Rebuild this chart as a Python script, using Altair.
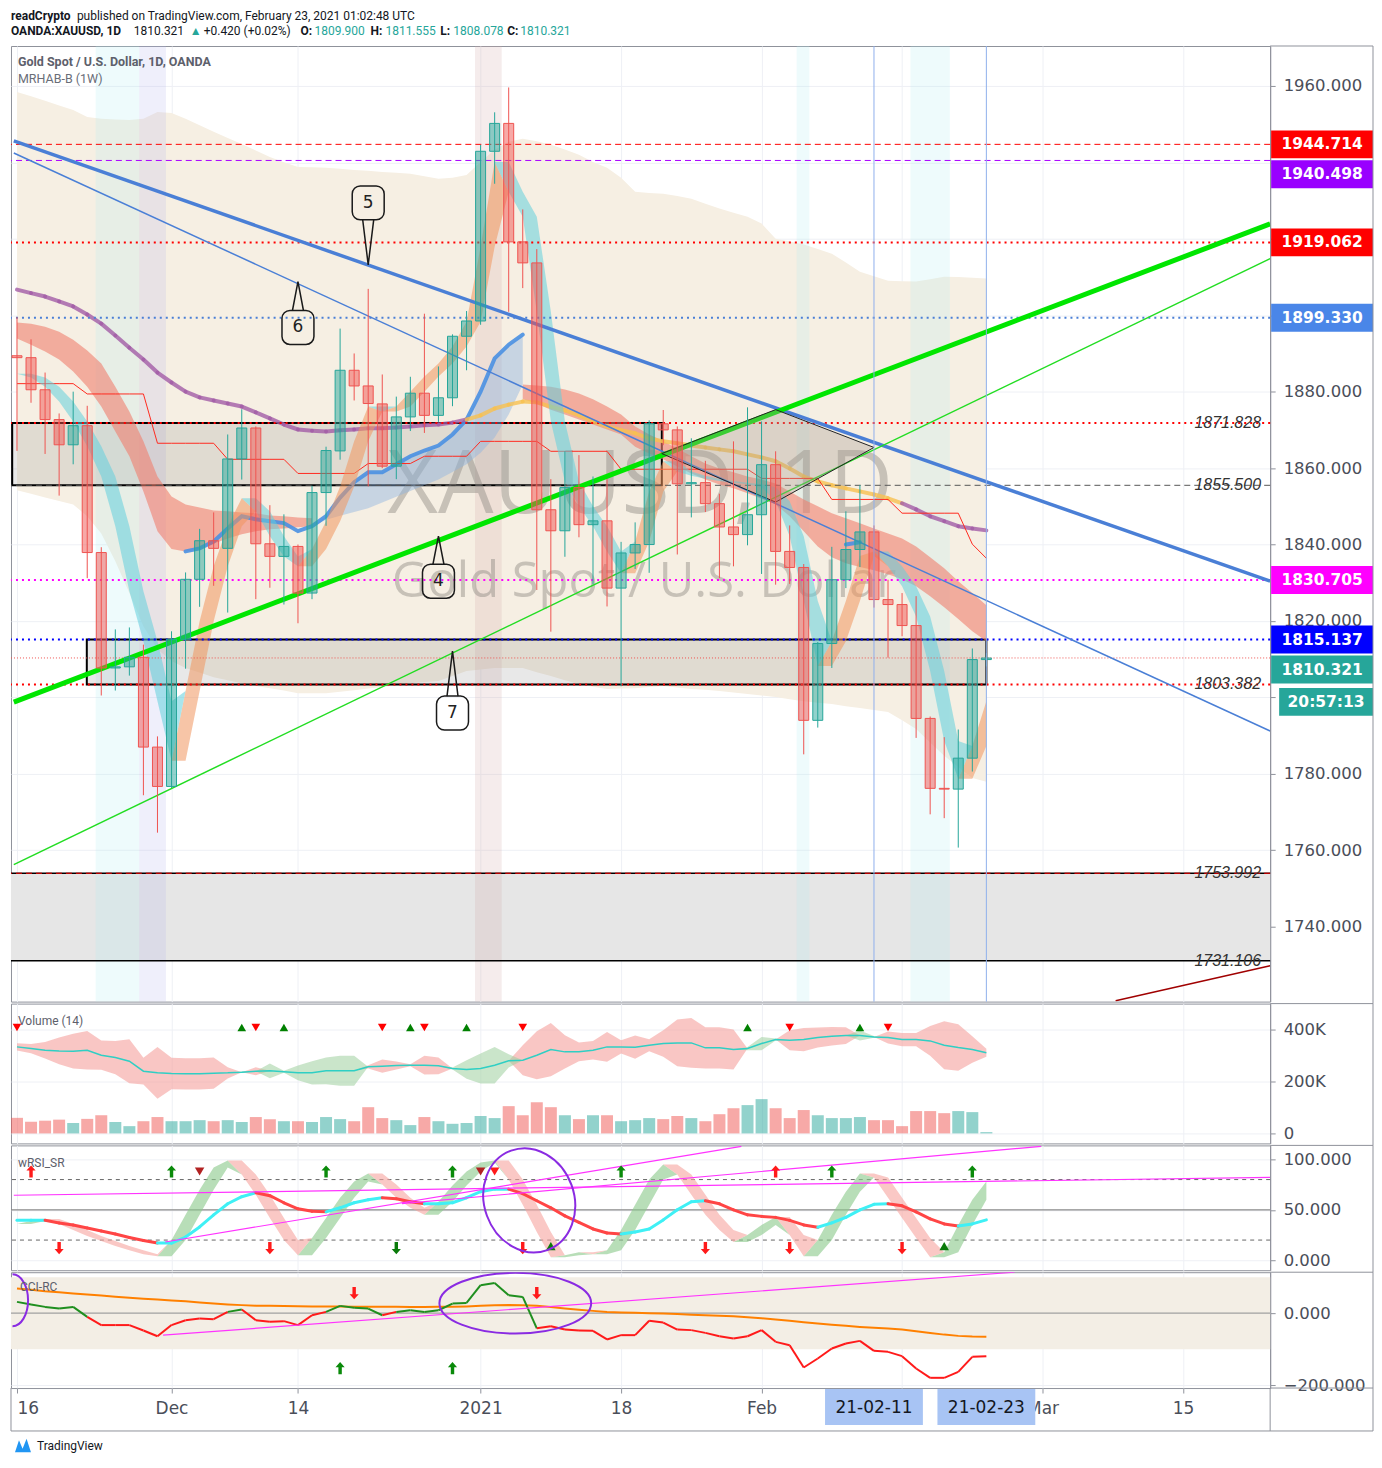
import altair as alt
import pandas as pd
import numpy as np

N = 70  # bar 0 = 2020-11-16 ... bar 69 = 2021-02-23 (daily bars)

# ---------------------------------------------------------------- candles
opens = [1889.4,1888.9,1880.5,1872.7,1866.1,1871.1,1837.9,1807.7,1808.0,1810.5,
         1787.0,1776.7,1815.2,1830.9,1841.0,1839.0,1862.4,1870.5,1840.2,1836.9,
         1839.5,1827.3,1853.6,1864.5,1885.6,1881.5,1876.8,1860.5,1873.4,1879.6,
         1873.8,1878.4,1894.5,1898.5,1942.9,1950.2,1919.2,1913.7,1849.1,1843.6,
         1854.9,1845.2,1846.2,1828.6,1837.8,1840.0,1871.6,1870.0,1855.9,1856.2,
         1850.7,1844.6,1842.6,1847.8,1860.9,1838.2,1834.0,1794.0,1814.1,1830.8,
         1838.7,1843.3,1825.6,1824.3,1818.8,1794.5,1776.2,1776.0,1784.1,1809.9]
highs = [1899.5,1893.7,1885.0,1874.3,1880.0,1876.3,1839.3,1817.8,1818.3,1813.8,
         1789.8,1817.3,1832.7,1844.1,1848.4,1868.8,1875.4,1870.9,1850.3,1847.9,
         1840.0,1855.4,1865.6,1896.5,1890.0,1906.9,1884.5,1878.7,1883.9,1900.4,
         1886.6,1895.0,1901.1,1944.6,1953.1,1959.6,1927.7,1917.3,1857.1,1864.4,
         1863.4,1857.8,1857.1,1840.7,1845.8,1872.5,1875.2,1870.9,1867.8,1861.9,
         1853.3,1867.0,1875.9,1872.2,1864.4,1845.0,1834.9,1814.5,1839.4,1848.7,
         1855.6,1845.0,1830.8,1827.3,1826.5,1795.0,1789.6,1791.6,1812.8,1811.6]
lows = [1864.5,1877.1,1863.7,1852.8,1861.0,1831.2,1800.5,1801.8,1805.7,1774.4,
        1764.6,1776.3,1807.5,1823.7,1829.2,1822.2,1857.0,1825.7,1828.7,1824.3,
        1819.4,1825.7,1844.9,1862.2,1877.7,1855.2,1860.0,1857.1,1869.7,1869.2,
        1872.1,1876.2,1885.6,1897.5,1934.4,1900.9,1907.1,1828.1,1817.2,1836.8,
        1841.9,1829.6,1823.8,1802.9,1833.6,1832.6,1866.0,1837.4,1847.1,1848.5,
        1831.2,1834.3,1839.8,1832.3,1829.5,1829.7,1785.1,1792.1,1807.7,1828.6,
        1834.1,1823.5,1810.4,1816.0,1789.4,1769.4,1768.4,1760.7,1780.6,1808.1]
closes = [1888.9,1880.5,1872.7,1866.1,1871.1,1837.9,1807.7,1808.0,1810.5,1787.0,
          1776.7,1815.2,1830.9,1841.0,1839.0,1862.4,1870.5,1840.2,1836.9,1839.5,
          1827.3,1853.6,1864.6,1885.6,1881.5,1876.9,1860.5,1873.4,1879.6,1873.8,
          1878.4,1894.5,1898.5,1942.9,1950.2,1919.2,1913.7,1849.1,1843.6,1854.9,
          1845.2,1846.2,1828.6,1837.8,1840.0,1871.6,1870.0,1855.9,1856.2,1850.7,
          1844.6,1842.6,1847.8,1860.9,1838.2,1834.0,1794.0,1814.1,1830.8,1838.7,
          1843.3,1825.6,1824.3,1818.8,1794.5,1776.2,1776.0,1784.1,1809.9,1810.3]

# ---------------------------------------------------------------- overlays (price)
cloud_upper = [1958.4,1957.3,1956.1,1954.9,1953.7,1951.9,1951.4,1951.2,1951.1,1951.4,
               1953.2,1952.9,1951.4,1949.7,1948.0,1946.4,1944.8,1943.1,1941.4,1940.0,
               1938.8,1938.7,1938.6,1938.3,1938.0,1937.8,1937.5,1937.3,1937.0,1936.4,
               1935.7,1936.0,1936.7,1940.1,1943.3,1945.4,1946.2,1945.5,1944.6,1943.4,
               1942.0,1940.1,1938.6,1936.0,1932.3,1932.0,1931.8,1931.2,1930.5,1929.2,
               1927.9,1926.8,1925.8,1924.0,1920.0,1919.3,1918.5,1917.3,1916.1,1913.8,
               1911.4,1910.2,1909.0,1908.9,1908.8,1909.4,1910.1,1910.0,1909.8,1909.6]
cloud_lower = [1854.2,1853.3,1852.3,1851.4,1850.5,1847.4,1842.9,1835.6,1827.3,1818.6,
               1812.6,1809.5,1807.7,1806.5,1805.3,1804.5,1803.7,1803.0,1802.4,1801.8,
               1801.1,1801.1,1801.1,1801.5,1801.9,1802.3,1802.7,1803.2,1803.7,1804.0,
               1804.3,1805.6,1806.9,1807.3,1807.7,1807.7,1807.7,1806.6,1805.6,1804.5,
               1803.5,1802.8,1802.2,1802.3,1802.4,1802.7,1803.0,1802.6,1802.2,1802.0,
               1801.7,1801.3,1800.9,1800.5,1800.1,1799.5,1799.0,1798.6,1798.3,1797.7,
               1797.2,1796.7,1796.2,1794.0,1791.7,1788.2,1784.7,1781.8,1778.9,1777.9]
slow_upper = ([1898.1,1897.8,1897.0,1895.7,1893.6,1890.8,1887.4,1881.3,1874.8,1867.0,
               1857.8,1852.6,1850.5,1849.7,1848.9,1848.7,1848.4,1848.2,1847.6,1847.4,
               1847.1,1846.9] + [None] * 14 +
              [1881.9,1881.6,1881.3,1880.6,1879.5,1878.0,1876.1,1874.0,1870.9,1868.8,
               1867.0,1865.1,1863.1,1861.2,1859.9,1858.9,1857.8,1857.0,1856.0,1853.9,
               1851.8,1850.0,1848.2,1846.9,1845.6,1844.2,1842.9,1841.6,1839.5,1836.7,
               1833.8,1830.4,1827.3,1824.1])
slow_lower = ([1893.9,1892.3,1890.5,1888.4,1885.3,1881.3,1876.1,1869.6,1863.1,1853.9,
               1843.5,1838.8,1838.2,1838.8,1840.3,1841.6,1842.7,1843.5,1844.0,1844.2,
               1844.5,1844.8] + [None] * 14 +
              [1878.0,1876.9,1875.3,1874.0,1872.7,1871.4,1870.1,1868.8,1865.6,1863.8,
               1862.3,1860.4,1858.6,1857.0,1855.7,1854.7,1853.4,1852.0,1850.5,1847.4,
               1843.5,1839.5,1836.7,1835.1,1834.1,1833.3,1832.2,1830.9,1829.1,1826.5,
               1823.6,1820.5,1817.3,1814.7])
blue_ma = ([None] * 12 +
           [1838.2,1839.0,1840.8,1844.2,1847.4,1846.6,1846.1,1845.6,1843.5,1844.8,
            1847.4,1852.3,1856.3,1858.9,1858.9,1861.0,1863.1,1864.6,1865.9,1868.8,
            1872.7,1880.0,1888.7,1892.3,1894.9] + [None] * 22 + [1840.0,1840.6] + [None] * 9)
blue_lower = ([None] * 21 +
              [1844.8,1846.5,1847.5,1848.5,1849.5,1851.0,1852.5,1854.0,1855.5,1857.0,
               1859.0,1861.0,1864.0,1868.0,1874.0,1881.9] + [None] * 33)
ma_line = [1906.7,1905.8,1904.9,1903.6,1902.3,1900.2,1897.8,1894.7,1891.5,1888.4,
           1885.0,1882.4,1880.0,1878.5,1877.7,1876.9,1876.1,1874.6,1873.0,1871.4,
           1870.1,1869.8,1869.6,1869.9,1870.1,1870.4,1870.4,1870.6,1870.9,1871.2,
           1871.4,1871.9,1872.7,1873.8,1875.6,1876.6,1877.4,1877.2,1876.1,1875.1,
           1873.8,1872.2,1870.9,1869.9,1869.1,1867.8,1867.0,1866.5,1865.9,1865.4,
           1864.9,1864.4,1863.6,1862.8,1861.8,1859.9,1857.8,1856.5,1855.5,1854.7,
           1853.9,1853.1,1852.1,1850.8,1849.2,1847.4,1846.1,1844.8,1844.2,1843.7]
ma_orange_bars = (32, 63)   # bars where the weekly MA is drawn orange
step_line = [1882.1,1882.1,1882.1,1882.1,1882.1,1879.4,1879.4,1879.4,1879.4,1879.4,
             1866.5,1866.5,1866.5,1866.5,1866.5,1862.3,1862.3,1862.3,1862.3,1862.3,
             1858.6,1858.6,1858.6,1858.6,1858.6,1861.2,1861.2,1861.2,1861.2,1863.1,
             1863.1,1863.1,1863.1,1867.0,1867.0,1867.0,1867.0,1867.0,1864.4,1864.4,
             1864.4,1864.4,1864.4,1859.7,1859.7,1859.7,1859.7,1859.7,1859.7,1859.7,
             1859.7,1859.7,1859.7,1857.3,1857.3,1857.3,1857.3,1857.3,1851.8,1851.8,
             1851.8,1851.8,1851.8,1848.2,1848.2,1848.2,1848.2,1848.2,1840.1,1836.4]
fast_ma = [1884.7,1883.7,1881.3,1877.4,1872.2,1865.7,1857.8,1844.8,1827.8,1814.7,
           1799.0,1783.4,1801.7,1819.9,1834.3,1844.8,1852.1,1848.7,1842.2,1836.9,
           1834.3,1838.8,1846.1,1855.2,1867.0,1876.1,1874.8,1876.1,1880.0,1884.0,
           1887.4,1891.8,1898.3,1917.9,1940.1,1932.3,1925.8,1900.9,1872.2,1856.5,
           1850.0,1844.8,1838.2,1832.5,1840.8,1853.9,1861.8,1859.1,1858.0,1857.2,
           1856.6,1856.2,1855.8,1855.0,1851.3,1842.2,1825.2,1808.2,1814.7,1825.2,
           1837.0,1838.2,1834.3,1829.1,1821.2,1806.9,1788.6,1778.7,1787.3,1799.0]

levels = [1944.714, 1940.498, 1919.062, 1899.330, 1871.828, 1855.500,
          1830.705, 1815.137, 1810.321, 1803.382, 1753.992, 1731.106]
box_prices = [1944.714, 1940.498, 1919.062, 1899.330, 1830.705, 1815.137, 1810.321]
timer_text = "20:57:13"

shade_start = [5.6, 8.7, 32.6, 55.5, 63.6]
shade_end = [8.7, 10.6, 34.5, 56.4, 66.4]
shade_kind = ["cyan", "lavender", "pink", "cyan", "cyan"]

trend_i0 = [-0.426, -0.426, -0.426, -0.426, 78.2]
trend_p0 = [1945.9, 1942.8, 1798.5, 1755.9, 1720.6]
trend_i1 = [89.2, 89.2, 89.2, 89.2, 89.2]
trend_p1 = [1830.4, 1791.2, 1923.9, 1914.8, 1729.8]

para_i = [45.9, 54.0, 61.0, 54.0]
para_p = [1863.8, 1875.3, 1865.4, 1851.1]

callout_lbl = ["4", "5", "6", "7"]
callout_tip_i = [30.0, 25.0, 20.0, 31.0]
callout_tip_p = [1842.2, 1913.2, 1908.8, 1812.1]
callout_box_p = [1830.4, 1929.4, 1896.8, 1795.9]

# ---------------------------------------------------------------- volume (thousands)
volumes_k = [60,45,49,53,40,56,70,44,28,47, 63,47,47,51,47,51,44,63,55,47,
             47,44,63,55,47,101,59,51,32,63, 47,37,40,67,59,105,70,120,101,70,
             55,70,70,47,51,59,55,67,59,47, 74,97,109,132,97,59,90,70,59,59,
             63,51,51,28,86,86,78,86,82,5]
vol_ma_k = [333.3,326.9,320.5,317.9,316.7,320.5,301.3,292.3,278.2,239.7,
            233.3,230.8,229.5,229.5,232.1,233.3,235.9,239.7,241.0,237.2,
            233.3,233.3,241.0,241.0,241.0,256.4,259.0,261.5,262.8,262.8,
            260.3,250.0,246.2,250.0,262.8,279.5,282.1,301.3,323.1,314.1,
            314.1,320.5,333.3,333.3,332.1,339.7,346.1,348.7,348.7,329.5,
            329.5,323.1,326.9,346.1,361.5,359.0,361.5,369.2,374.4,376.9,
            376.9,371.8,369.2,361.5,361.5,356.4,339.7,330.7,323.1,310.3]
vol_dev_k = [14.1,17.9,32.0,51.3,66.7,74.4,56.4,64.1,84.6,51.3,
             100.0,60.3,60.3,60.3,60.3,21.8,2.6,15.4,28.2,3.8,
             28.2,44.9,51.3,57.7,57.7,6.4,25.6,15.4,3.8,35.9,
             32.1,3.8,35.9,57.7,70.5,25.6,57.7,92.3,102.6,64.1,
             35.9,35.9,57.7,25.6,44.9,23.1,51.3,89.7,96.2,79.5,
             79.5,76.9,6.4,25.6,3.8,38.5,44.9,38.5,35.9,32.1,
             19.2,3.8,23.1,25.6,25.6,57.7,92.3,89.7,51.3,15.4]
vol_side = list("rrrrrrrrrrrrrrrr" "gr" "ggggggg" "rrrrrr" "ggggg"
                "rrrrrrrrrrrrrrrr" "ggg" "rrrrr" "gg" "rrrrrrrr")
vol_dn_idx = [0, 17, 26, 29, 36, 55, 62]
vol_up_idx = [16, 19, 28, 32, 52, 60]

# ---------------------------------------------------------------- wRSI
wrsi = [39.6,39.6,39.6,37,35,32,29,26,22.5,19.5, 17,17,23,33,45,56,63,67,64,57,
        51,48.5,48,52,57,60,62,61,58,56, 56,57,62,68,70.5,70.5,66,59,52,44,
        37.5,31,27,26,28,31,40,50,58,59, 56,50,45,43.5,42.5,39.5,35,32.7,37,42.5,
        50,55.5,56,54,48,41,36,34,36,40]
wrsi_fast = [36,39,41,36,30,24,19,14,10,6, 4,20,45,70,92,99,85,65,42,20,
             5,22,42,62,78,86,75,62,52,45, 58,74,88,97,99,80,55,28,3,5,
             8,6,10,30,55,80,95,85,65,45, 30,18,25,35,43,25,4,20,45,68,
             86,82,62,42,22,3,8,35,60,78]
rsi_levels = [80, 50, 20]
rsi_line_i0 = [-0.426, 10.55, 27.4]
rsi_line_v0 = [64.4, 18.1, 56.1]
rsi_line_i1 = [89.2, 51.56, 72.9]
rsi_line_v1 = [82.2, 112.9, 112.9]
rsi_mark_i = [1, 11, 13, 22, 31, 33, 34, 43, 54, 58, 68, 3, 18, 27, 36, 38, 49, 55, 63, 66]
rsi_mark_v = [88, 88, 88, 88, 88, 88, 88, 88, 88, 88, 88, 12, 12, 12, 12, 14, 12, 12, 12, 14]
rsi_mark_kind = ["ru", "gu", "dt", "gu", "gu", "dt", "rt", "gu", "ru", "gu", "gu",
                 "rd", "rd", "gd", "rd", "gt", "rd", "rd", "rd", "gt"]

# ---------------------------------------------------------------- CCI
cci = [31.5,24,17.6,13,17.6,-10,-33,-33,-33,-48, -64,-33,-19.4,-14.8,-16.7,3.7,10.2,-19.4,-24,-22,
       -33,-5.6,3.7,20.4,15,13,-5.6,3.7,8.3,3.7, 8.3,26.8,28.7,77.8,84.3,50,45.4,-42,-36,-45,
       -48,-49,-73,-61,-61,-21,-26,-45.4,-47,-54.6, -63.9,-70.4,-64,-47,-79.6,-88.9,-150.9,-125.9,-98,-84.3,
       -76.9,-104.6,-107.4,-119.4,-153.7,-179.6,-179.6,-163,-121.3,-119.4]
cci_ma = [68.6,65,61,58,55,52,49,46,43,40.5, 38,35.5,33,30,27,24.5,22.5,21,20.5,20,
          19.5,19,18.7,18.5,18.2,18,17.8,17.7,17.6,17.6, 17.7,18,19,20.5,22,22.5,22,20.5,17,13,
          9.5,6.5,3.5,2,1,0,-1,-2.5,-4,-5.5, -7,-8.5,-11,-14,-17.5,-21,-25,-28.5,-32,-35,
          -38,-40.5,-42.6,-45.5,-50,-55,-59.5,-63,-65,-65.7]
cci_line_i = [10.4, 71.0]
cci_line_v = [-61, 113.9]
cci_dn_idx = [24, 37]
cci_up_idx = [23, 31]

# ---------------------------------------------------------------- time axis
tick_idx = [0, 11, 20, 33, 43, 53, 63, 73, 83]
tick_lbl = ["16", "Dec", "14", "2021", "18", "Feb", "15", "Mar", "15"]
marked_idx = [61, 69]
marked_lbl = ["21-02-11", "21-02-23"]

for arr in [opens, highs, lows, closes, cloud_upper, cloud_lower, slow_upper, slow_lower,
            blue_ma, blue_lower, ma_line, step_line, fast_ma, volumes_k, vol_ma_k,
            vol_dev_k, vol_side, wrsi, wrsi_fast, cci, cci_ma]:
    assert len(arr) == N, len(arr)

# ================================================================= styling
W = 1261
RB = W + 103                       # right frame (x, px)
H_HEAD, H_MAIN, H_VOL, H_RSI, H_CCI = 34, 957, 140, 125, 116
XMIN, XMAX = -0.426, 89.2
YMIN, YMAX = 1720.4, 1970.45
PX = H_MAIN / (YMAX - YMIN)        # px per price unit
IX = W / (XMAX - XMIN)             # px per bar
FRAME = "#8f929b"
GRID = "#eef0f5"
LBL = "#4a4e59"
FONT = "DejaVu Sans"
FONT2 = "Liberation Sans"
FONT3 = "Roboto"
GREEN = "#26a69a"
RED = "#ef5350"

XS = alt.Scale(domain=[XMIN, XMAX], nice=False, zero=False)
YS_MAIN = alt.Scale(domain=[YMIN, YMAX], nice=False, zero=False)
YS_VOL = alt.Scale(domain=[-38462, 500000], nice=False, zero=False)
YS_RSI = alt.Scale(domain=[-9.9, 113.9], nice=False, zero=False)
YS_CCI = alt.Scale(domain=[-208, 114], nice=False, zero=False)

# right-hand price boxes (pushed apart like the platform does)
box_color = {1944.714: "#ff0000", 1940.498: "#9900ff", 1919.062: "#ff0000",
             1899.330: "#4a86e8", 1830.705: "#ff00ff", 1815.137: "#0000ff",
             1810.321: "#26a69a"}
GAP = 30 / PX
HB = 14 / PX
rows, last = [], None
for p in sorted(box_prices, reverse=True):
    pos = p if last is None else min(p, last - GAP)
    rows.append(dict(pos=pos, t=f"{p:.3f}", col=box_color[p], a=pos + HB, b=pos - HB))
    last = pos
dpb = pd.DataFrame(rows)
tpos = last - GAP * 1.08
box_pos = list(dpb.pos) + [tpos]

# axis labels hidden behind the coloured boxes
y_vals = list(range(1740, 1961, 20))
y_hidden = [v for v in y_vals if any(abs(v - q) < 18 / PX for q in box_pos)]
y_expr = ("indexof([" + ",".join(str(v) for v in y_hidden) + "], datum.value) >= 0 ? '' : "
          "format(datum.value, '.3f')")
half_box = 49 / IX
x_hidden = [t for t in tick_idx if any(abs(t - m) < half_box for m in marked_idx)]
lbl_expr = "".join(f"datum.value == {v} ? '{'' if v in x_hidden else t}' : "
                   for v, t in zip(tick_idx, tick_lbl)) + "''"

AXX = alt.Axis(values=tick_idx, grid=True, gridColor=GRID, labels=False, ticks=False,
               domain=False, title=None)
AXX_BOTTOM = alt.Axis(values=tick_idx, grid=True, gridColor=GRID, labelExpr=lbl_expr,
                      labelFontSize=17, labelColor=LBL, labelFont=FONT, tickSize=5,
                      tickColor=FRAME, domain=False, labelPadding=8, title=None,
                      labelOverlap=False, labelFlush=8)


def yax(values, fmt=None, expr=None):
    kw = dict(orient="right", values=values, labelFontSize=16.5, labelColor=LBL,
              labelFont=FONT, tickSize=5, tickColor=FRAME, domainColor=FRAME,
              labelPadding=8, grid=True, gridColor=GRID, title=None, labelOverlap=False)
    if fmt:
        kw["format"] = fmt
    if expr:
        kw["labelExpr"] = expr
    return alt.Axis(**kw)


AXY_MAIN = yax(y_vals, expr=y_expr)
AXY_VOL = yax([0, 200000, 400000], expr="datum.value == 0 ? '0' : (datum.value / 1000) + 'K'")
AXY_RSI = yax([0, 50, 100], fmt=".3f")
AXY_CCI = yax([-200, 0], fmt=".3f")


def X(f, bottom=False):
    return alt.X(f, type="quantitative", scale=XS, axis=AXX_BOTTOM if bottom else AXX)


def YM(f):
    return alt.Y(f, type="quantitative", scale=YS_MAIN, axis=AXY_MAIN)


def YV(f):
    return alt.Y(f, type="quantitative", scale=YS_VOL, axis=AXY_VOL)


def YR(f):
    return alt.Y(f, type="quantitative", scale=YS_RSI, axis=AXY_RSI)


def YC(f):
    return alt.Y(f, type="quantitative", scale=YS_CCI, axis=AXY_CCI)


DUMMY = pd.DataFrame({"d": [0]})
EDGE = 2.8 / IX          # keep wide strokes inside the left frame


def txt(s, x, y, size=12, color="#555", weight="normal", align="left", font=FONT2,
        style="normal", baseline="middle", opacity=1.0):
    return alt.Chart(pd.DataFrame({"t": [s]})).mark_text(
        align=align, baseline=baseline, fontSize=size, color=color, fontWeight=weight,
        font=font, fontStyle=style, opacity=opacity).encode(
        x=alt.value(x), y=alt.value(y), text="t:N")


def hrule(x, x2, y, color=FRAME, width=1):
    return alt.Chart(DUMMY).mark_rule(color=color, strokeWidth=width).encode(
        x=alt.value(x), x2=alt.value(x2), y=alt.value(y))


def vrule(x, y, y2, color=FRAME, width=1):
    return alt.Chart(DUMMY).mark_rule(color=color, strokeWidth=width).encode(
        x=alt.value(x), y=alt.value(y), y2=alt.value(y2))


def frame_layers(h):
    return [hrule(W, RB, 0), vrule(RB, 0, h + 2)]


def runs_frame(cols):
    key = list(cols)[0]
    out, grp, prev = [], 0, False
    for k in range(N):
        ok = cols[key][k] is not None
        if ok:
            if not prev:
                grp += 1
            r = {"i": k, "grp": grp}
            for n, v in cols.items():
                r[n] = v[k]
            out.append(r)
        prev = ok
    return pd.DataFrame(out)


def seg_frame(vals, colors):
    out = []
    for k in range(len(vals) - 1):
        out.append({"i": k, "v": vals[k], "seg": k, "col": colors[k]})
        out.append({"i": k + 1, "v": vals[k + 1], "seg": k, "col": colors[k]})
    return pd.DataFrame(out)


def ribbons(vals):
    lag = [vals[0]] + list(vals[:-1])
    uh, ul, dh, dl = [], [], [], []
    for a, b in zip(vals, lag):
        if a >= b:
            uh.append(a); ul.append(b); dh.append(a); dl.append(a)
        else:
            uh.append(a); ul.append(a); dh.append(a); dl.append(b)
    return pd.DataFrame({"i": range(len(vals)), "uh": uh, "ul": ul, "dh": dh, "dl": dl})


def line_start(i0, p0, i1, p1):
    """move a line's left end to just inside the frame, staying on the same line"""
    if i0 >= XMIN + EDGE:
        return i0, p0
    ni = XMIN + EDGE
    return ni, p0 + (p1 - p0) * (ni - i0) / (i1 - i0)


UP_ARROW = "M0,-1L0.75,-0.15L0.28,-0.15L0.28,1L-0.28,1L-0.28,-0.15L-0.75,-0.15Z"
DN_ARROW = "M0,1L0.75,0.15L0.28,0.15L0.28,-1L-0.28,-1L-0.28,0.15L-0.75,0.15Z"

# ================================================================= header
head_segments = [
    ("readCrypto", 0, 6, "bold", "#131722"),
    ("published on TradingView.com, February 23, 2021 01:02:48 UTC", 66, 6, "normal", "#131722"),
    ("OANDA:XAUUSD, 1D", 0, 21, "bold", "#131722"),
    ("1810.321", 123, 21, "normal", "#131722"),
    ("\u25b2", 179, 21, "normal", GREEN),
    ("+0.420 (+0.02%)", 193, 21, "normal", "#131722"),
    ("O:", 290, 21, "bold", "#131722"), ("1809.900", 304, 21, "normal", GREEN),
    ("H:", 360, 21, "bold", "#131722"), ("1811.555", 375, 21, "normal", GREEN),
    ("L:", 430, 21, "bold", "#131722"), ("1808.078", 443, 21, "normal", GREEN),
    ("C:", 497, 21, "bold", "#131722"), ("1810.321", 510, 21, "normal", GREEN),
]
head = alt.layer(*[txt(s, x, y, size=12, color=c, weight=w, font=FONT3)
                   for s, x, y, w, c in head_segments]
                 ).properties(width=W, height=H_HEAD,
                              view=alt.ViewBackground(stroke="transparent"))

# ================================================================= main panel
dfm = pd.DataFrame({"i": range(N), "cup": cloud_upper, "clo": cloud_lower,
                    "step": step_line})
dfc = pd.DataFrame({"i": range(N), "o": opens, "h": highs, "l": lows, "c": closes})
dfc["dir"] = np.where(dfc.c >= dfc.o, "up", "down")
dfc["x0"] = dfc.i - 5.0 / IX
dfc["x1"] = dfc.i + 5.0 / IX
CSC = alt.Scale(domain=["up", "down"], range=[GREEN, RED])

L = []
L.append(alt.Chart(dfm).mark_area(color="#f6efe3").encode(x=X("i"), y=YM("cup"), y2="clo"))
L.append(alt.Chart(pd.DataFrame({"a": [levels[10]], "b": [levels[11]]})).mark_rect(
    color="#e6e6e6").encode(x=alt.value(0), x2=alt.value(W), y=YM("a"), y2="b"))
shade_col = {"cyan": "#b2ebf2", "lavender": "#b4b4eb", "pink": "#d2aaaa"}
dfs = pd.DataFrame({"s": shade_start, "e": shade_end,
                    "col": [shade_col[k] for k in shade_kind]})
L.append(alt.Chart(dfs).mark_rect(opacity=0.22).encode(
    x=X("s"), x2="e", y=alt.value(0), y2=alt.value(H_MAIN),
    color=alt.Color("col:N", scale=None)))
dfb = pd.DataFrame({"x0": [XMIN + 1.2 / IX, 4.97], "x1": [45.9, 69.0],
                    "p0": [levels[4], levels[7]], "p1": [levels[5], levels[9]]})
L.append(alt.Chart(dfb).mark_rect(fill="#8c8c8c", fillOpacity=0.2, stroke="black",
                                  strokeWidth=2).encode(
    x=X("x0"), x2="x1", y=YM("p0"), y2="p1"))
# watermark
L.append(txt("XAUUSD, 1D", 630, 468, size=88, color="#8f8a84", font="Open Sans",
             align="center", baseline="alphabetic", opacity=0.45))
L.append(txt("Gold Spot / U.S. Dollar", 634, 552, size=49, color="#8f8a84", font="Open Sans",
             align="center", baseline="alphabetic", opacity=0.45))
# slow ribbon
dslow = runs_frame({"su": slow_upper, "sl": slow_lower})
L.append(alt.Chart(dslow).mark_area(color="#f07f6e", opacity=0.6).encode(
    x=X("i"), y=YM("su"), y2="sl", detail="grp:N"))
# bullish blue MA with fill
dbf = runs_frame({"bl": blue_lower, "bm": blue_ma})
L.append(alt.Chart(dbf).mark_area(color="#8fb4e0", opacity=0.45).encode(
    x=X("i"), y=YM("bm"), y2="bl", detail="grp:N"))
dbl = runs_frame({"bm": blue_ma})
L.append(alt.Chart(dbl).mark_line(color="#4a90e2", strokeWidth=4, opacity=0.9,
                                  strokeCap="round").encode(
    x=X("i"), y=YM("bm"), detail="grp:N"))
# weekly MA (purple / orange)
ma_cols = ["#f7c150" if ma_orange_bars[0] <= k < ma_orange_bars[1] else "#a35ca6"
           for k in range(N - 1)]
L.append(alt.Chart(seg_frame(ma_line, ma_cols)).mark_line(
    strokeWidth=4, opacity=0.8, strokeCap="round").encode(
    x=X("i"), y=YM("v"), detail="seg:N", color=alt.Color("col:N", scale=None)))
# red step line
L.append(alt.Chart(dfm).mark_line(color="#ff2a1f", strokeWidth=1).encode(x=X("i"), y=YM("step")))
# fast ribbon
dfr = ribbons(fast_ma)
L.append(alt.Chart(dfr).mark_area(color="#f0955f", opacity=0.55).encode(
    x=X("i"), y=YM("uh"), y2="ul"))
L.append(alt.Chart(dfr).mark_area(color="#62cfdc", opacity=0.55).encode(
    x=X("i"), y=YM("dh"), y2="dl"))
# horizontal levels
level_style = [
    ("#ff0000", [6, 4], 1), ("#aa00ff", [6, 4], 1), ("#ff0000", [2, 4], 2),
    ("#4a7fd6", [2, 4], 2), ("#ff0000", [2, 4], 2), ("#555555", [6, 4], 1),
    ("#ff00ff", [2, 4], 2), ("#0000ff", [2, 4], 2), ("#ef5350", [1, 2], 1),
    ("#ff0000", [2, 4], 2), ("#000000", [1, 0], 1.5), ("#000000", [1, 0], 1.5),
]
for p, (col, dash, wd) in zip(levels, level_style):
    L.append(alt.Chart(pd.DataFrame({"p": [p]})).mark_rule(
        color=col, strokeDash=dash, strokeWidth=wd).encode(y=YM("p")))
L.append(alt.Chart(pd.DataFrame({"p": [levels[10]]})).mark_rule(
    color="#ff0000", strokeDash=[6, 4], strokeWidth=1).encode(y=YM("p")))
# trend lines
trend_style = [("#4a7fd6", 3.5), ("#4a7fd6", 1.5), ("#00e600", 5), ("#22dd22", 1.5),
               ("#a00000", 1.5)]
for k, (col, wd) in enumerate(trend_style):
    a_i, a_p = line_start(trend_i0[k], trend_p0[k], trend_i1[k], trend_p1[k])
    d = pd.DataFrame({"i": [a_i, trend_i1[k]], "p": [a_p, trend_p1[k]]})
    L.append(alt.Chart(d).mark_line(color=col, strokeWidth=wd, clip=True).encode(
        x=X("i"), y=YM("p")))
# parallelogram
dpa = pd.DataFrame({"i": [para_i[0], para_i[1], para_i[2]],
                    "a": [para_p[0], para_p[1], para_p[2]],
                    "b": [para_p[0], para_p[3], para_p[2]]})
L.append(alt.Chart(dpa).mark_area(color="#a89f92", opacity=0.35).encode(
    x=X("i"), y=YM("a"), y2="b"))
dpl = pd.DataFrame({"i": para_i + [para_i[0]], "p": para_p + [para_p[0]], "k": range(5)})
L.append(alt.Chart(dpl).mark_line(color="#222", strokeWidth=1).encode(
    x=X("i"), y=YM("p"), order="k:Q"))
# candles
L.append(alt.Chart(dfc).mark_rule(strokeWidth=1).encode(
    x=X("i"), y=YM("l"), y2="h", color=alt.Color("dir:N", scale=CSC, legend=None)))
L.append(alt.Chart(dfc).mark_rect(fillOpacity=0.5, strokeWidth=1).encode(
    x=X("x0"), x2="x1", y=YM("o"), y2="c",
    fill=alt.Fill("dir:N", scale=CSC, legend=None),
    stroke=alt.Stroke("dir:N", scale=CSC, legend=None)))
# vertical marker lines
L.append(alt.Chart(pd.DataFrame({"i": marked_idx})).mark_rule(
    color="#8fb0ec", strokeWidth=1).encode(x=X("i")))
# callouts
bw, bh, pw = 16 / IX, 17 / PX, 5.5 / IX
dco = pd.DataFrame({"lbl": callout_lbl, "ti": callout_tip_i, "tp": callout_tip_p,
                    "bp": callout_box_p})
dco["x0"] = dco.ti - bw
dco["x1"] = dco.ti + bw
dco["y0"] = dco.bp - bh
dco["y1"] = dco.bp + bh
L.append(alt.Chart(dco).mark_rect(fill="transparent", stroke="#1a1a1a", strokeWidth=1.5,
                                  cornerRadius=8).encode(x=X("x0"), x2="x1", y=YM("y0"), y2="y1"))
prow = []
for r in dco.itertuples():
    edge = r.bp + bh if r.bp < r.tp else r.bp - bh
    prow += [dict(lbl=r.lbl, k=0, i=r.ti - pw, p=edge), dict(lbl=r.lbl, k=1, i=r.ti, p=r.tp),
             dict(lbl=r.lbl, k=2, i=r.ti + pw, p=edge)]
L.append(alt.Chart(pd.DataFrame(prow)).mark_line(color="#1a1a1a", strokeWidth=1.5).encode(
    x=X("i"), y=YM("p"), detail="lbl:N", order="k:Q"))
L.append(alt.Chart(dco).mark_text(fontSize=17, color="#222", font=FONT).encode(
    x=X("ti"), y=YM("bp"), text="lbl:N"))
# italic level labels
lvl_lab = [levels[4], levels[5], levels[9], levels[10], levels[11]]
dll = pd.DataFrame({"p": lvl_lab, "t": [f"{v:.3f}" for v in lvl_lab], "i": [88.55] * 5})
L.append(alt.Chart(dll).mark_text(align="right", baseline="middle", fontStyle="italic",
                                  fontSize=16, color="#333", font=FONT2).encode(
    x=X("i"), y=YM("p"), text="t:N"))
# right-side price boxes
L.append(alt.Chart(dpb).mark_rect().encode(
    x=alt.value(W + 1), x2=alt.value(RB), y=YM("a"), y2="b",
    color=alt.Color("col:N", scale=None)))
L.append(alt.Chart(dpb).mark_text(color="white", fontWeight="bold", fontSize=15.5,
                                  font=FONT).encode(
    x=alt.value((W + 1 + RB) / 2), y=YM("pos"), text="t:N"))
dtm = pd.DataFrame({"pos": [tpos], "a": [tpos + HB], "b": [tpos - HB], "t": [timer_text]})
L.append(alt.Chart(dtm).mark_rect(color="#26a69a").encode(
    x=alt.value(W + 9), x2=alt.value(RB), y=YM("a"), y2="b"))
L.append(alt.Chart(dtm).mark_text(color="white", fontWeight="bold", fontSize=15.5,
                                  font=FONT).encode(
    x=alt.value((W + 9 + RB) / 2), y=YM("pos"), text="t:N"))
# legend texts
L.append(txt("Gold Spot / U.S. Dollar, 1D, OANDA", 7, 16, size=12.5, color="#5d606b",
             weight="bold", font=FONT3))
L.append(txt("MRHAB-B (1W)", 7, 33, size=12.5, color="#6a6d78", font=FONT3))
L += frame_layers(H_MAIN)
main = alt.layer(*L).properties(width=W, height=H_MAIN)

# ================================================================= volume panel
dfv = pd.DataFrame({"i": range(N), "vol": [v * 1000 for v in volumes_k],
                    "ma": [v * 1000 for v in vol_ma_k], "dev": [v * 1000 for v in vol_dev_k],
                    "side": vol_side, "dir": dfc["dir"], "zero": 0})
dfv["x0"] = dfv.i - 6.0 / IX
dfv["x1"] = dfv.i + 6.0 / IX
dfv["rh"] = np.where(dfv.side == "r", dfv.ma + dfv.dev, dfv.ma)
dfv["rl"] = np.where(dfv.side == "r", dfv.ma - dfv.dev, dfv.ma)
dfv["gh"] = np.where(dfv.side == "g", dfv.ma + dfv.dev, dfv.ma)
dfv["gl"] = np.where(dfv.side == "g", dfv.ma - dfv.dev, dfv.ma)
V = []
V.append(alt.Chart(dfv).mark_area(color="#f5a09d", opacity=0.6).encode(
    x=X("i"), y=YV("rh"), y2="rl"))
V.append(alt.Chart(dfv).mark_area(color="#9fd09f", opacity=0.55).encode(
    x=X("i"), y=YV("gh"), y2="gl"))
V.append(alt.Chart(dfv).mark_line(color="#2fcfc4", strokeWidth=1.5).encode(
    x=X("i"), y=YV("ma")))
V.append(alt.Chart(dfv).mark_rect(opacity=0.5).encode(
    x=X("x0"), x2="x1", y=YV("zero"), y2="vol",
    color=alt.Color("dir:N", scale=CSC, legend=None)))
V.append(alt.Chart(pd.DataFrame({"i": vol_dn_idx, "v": 408000})).mark_point(
    shape="triangle-down", filled=True, size=75, color="#ff0000", opacity=1).encode(
    x=X("i"), y=YV("v")))
V.append(alt.Chart(pd.DataFrame({"i": vol_up_idx, "v": 408000})).mark_point(
    shape="triangle-up", filled=True, size=75, color="#008000", opacity=1).encode(
    x=X("i"), y=YV("v")))
V.append(txt("Volume (14)", 7, 17, size=12, color="#5d606b", font=FONT3))
V += frame_layers(H_VOL)
vol = alt.layer(*V).properties(width=W, height=H_VOL)

# ================================================================= wRSI panel
R = []
for lv in rsi_levels:
    if lv == 50:
        R.append(alt.Chart(pd.DataFrame({"v": [lv]})).mark_rule(
            color="#8a8a8a", strokeWidth=1.2).encode(y=YR("v")))
    else:
        R.append(alt.Chart(pd.DataFrame({"v": [lv]})).mark_rule(
            color="#666", strokeWidth=1, strokeDash=[4, 4]).encode(y=YR("v")))
drb = ribbons(wrsi_fast)
R.append(alt.Chart(drb).mark_area(color="#8cc98c", opacity=0.62).encode(
    x=X("i"), y=YR("uh"), y2="ul"))
R.append(alt.Chart(drb).mark_area(color="#f7a39f", opacity=0.6).encode(
    x=X("i"), y=YR("dh"), y2="dl"))
rsi_cols = ["#ff4545" if wrsi[k + 1] < wrsi[k] else "#3ff0f5" for k in range(N - 1)]
R.append(alt.Chart(seg_frame(wrsi, rsi_cols)).mark_line(
    strokeWidth=3, strokeCap="round").encode(
    x=X("i"), y=YR("v"), detail="seg:N", color=alt.Color("col:N", scale=None)))
for k in range(len(rsi_line_i0)):
    a_i, a_v = line_start(rsi_line_i0[k], rsi_line_v0[k], rsi_line_i1[k], rsi_line_v1[k])
    d = pd.DataFrame({"i": [a_i, rsi_line_i1[k]], "v": [a_v, rsi_line_v1[k]]})
    R.append(alt.Chart(d).mark_line(color="#ff33ff", strokeWidth=1.2, clip=True).encode(
        x=X("i"), y=YR("v")))
kind_shape = {"ru": UP_ARROW, "gu": UP_ARROW, "rd": DN_ARROW, "gd": DN_ARROW,
              "dt": "triangle-down", "rt": "triangle-down", "gt": "triangle-up"}
kind_col = {"ru": "#ff1a1a", "gu": "#0a8a0a", "rd": "#ff1a1a", "gd": "#0a7a0a",
            "dt": "#b22222", "rt": "#ff1a1a", "gt": "#0a7a0a"}
dmk = pd.DataFrame({"i": rsi_mark_i, "v": rsi_mark_v, "kind": rsi_mark_kind})
dmk["col"] = [kind_col[k] for k in dmk.kind]
dmk["shape"] = [kind_shape[k] for k in dmk.kind]
for shp, sz in [(UP_ARROW, 150), (DN_ARROW, 150), ("triangle-down", 90), ("triangle-up", 90)]:
    sub = dmk[dmk["shape"] == shp]
    R.append(alt.Chart(sub).mark_point(shape=shp, filled=True, size=sz, opacity=1).encode(
        x=X("i"), y=YR("v"), color=alt.Color("col:N", scale=None)))
R.append(alt.Chart(pd.DataFrame({"i": [36.46], "v": [59.4]})).mark_point(
    shape="M-0.85,0A0.85,1,0,1,0,0.85,0A0.85,1,0,1,0,-0.85,0", size=106 * 106,
    filled=False, color="#8a2be2", strokeWidth=2, opacity=1, angle=340).encode(
    x=X("i"), y=YR("v")))
R.append(txt("wRSI_SR", 7, 18, size=12, color="#5d606b", font=FONT3))
R += frame_layers(H_RSI)
rsi = alt.layer(*R).properties(width=W, height=H_RSI)

# ================================================================= CCI panel
C = []
C.append(alt.Chart(pd.DataFrame({"a": [100], "b": [-100]})).mark_rect(color="#f3eee5").encode(
    x=alt.value(0), x2=alt.value(W), y=YC("a"), y2="b"))
C.append(alt.Chart(pd.DataFrame({"v": [0]})).mark_rule(color="#a0a0a0", strokeWidth=1.2).encode(
    y=YC("v")))
dcm = pd.DataFrame({"i": range(N), "m": cci_ma})
C.append(alt.Chart(dcm).mark_line(color="#ff8000", strokeWidth=2).encode(x=X("i", True), y=YC("m")))
cci_cols = ["#1f8f1f" if (cci[k] + cci[k + 1]) / 2 > 0 else "#ff1a1a" for k in range(N - 1)]
C.append(alt.Chart(seg_frame(cci, cci_cols)).mark_line(strokeWidth=2).encode(
    x=X("i", True), y=YC("v"), detail="seg:N", color=alt.Color("col:N", scale=None)))
C.append(alt.Chart(pd.DataFrame({"i": cci_line_i, "v": cci_line_v})).mark_line(
    color="#ff33ff", strokeWidth=1.2, clip=True).encode(x=X("i", True), y=YC("v")))
C.append(alt.Chart(pd.DataFrame({"i": cci_dn_idx, "v": 55.6})).mark_point(
    shape=DN_ARROW, filled=True, size=150, color="#ff1a1a", opacity=1).encode(
    x=X("i", True), y=YC("v")))
C.append(alt.Chart(pd.DataFrame({"i": cci_up_idx, "v": -152.8})).mark_point(
    shape=UP_ARROW, filled=True, size=150, color="#0a8a0a", opacity=1).encode(
    x=X("i", True), y=YC("v")))
C.append(alt.Chart(pd.DataFrame({"i": [35.47], "v": [27.8]})).mark_point(
    shape="M-1,0A1,0.4,0,1,0,1,0A1,0.4,0,1,0,-1,0", size=152 * 152,
    filled=False, color="#8a2be2", strokeWidth=2, opacity=1, clip=True).encode(
    x=X("i", True), y=YC("v")))
C.append(alt.Chart(pd.DataFrame({"i": [XMIN + 1.5 / IX], "v": [36]})).mark_point(
    shape="M0,-1A0.6,1,0,0,1,0,1", size=52 * 52,
    filled=False, color="#8a2be2", strokeWidth=2, opacity=1, clip=True).encode(
    x=X("i", True), y=YC("v")))
C.append(txt("CCI-RC", 9, 15, size=12, color="#5d606b", font=FONT3))
# highlighted dates on the time axis
dmd = pd.DataFrame({"i": marked_idx, "t": marked_lbl})
dmd["x0"] = dmd.i - half_box
dmd["x1"] = dmd.i + half_box
C.append(alt.Chart(dmd).mark_rect(color="#a8c4f4").encode(
    x=X("x0", True), x2="x1", y=alt.value(H_CCI + 1), y2=alt.value(H_CCI + 37)))
C.append(alt.Chart(dmd).mark_text(fontSize=17, color="#131722", font=FONT).encode(
    x=X("i", True), y=alt.value(H_CCI + 20), text="t:N"))
# frame of the time-axis strip and footer
C += [hrule(W, RB, 0), hrule(W, RB, H_CCI), hrule(0, RB, H_CCI + 43),
      vrule(RB, 0, H_CCI + 43), vrule(W, H_CCI, H_CCI + 43), vrule(0, H_CCI, H_CCI + 43)]
C.append(alt.Chart(DUMMY).mark_point(
    shape="M-1,0.8L-0.5,-0.7L-0.05,0.35L0.45,-0.9L1,0.8Z", filled=True, size=256,
    color="#2196f3", opacity=1).encode(x=alt.value(12), y=alt.value(H_CCI + 58)))
C.append(txt("TradingView", 26, H_CCI + 58, size=12, color="#131722", font=FONT3))
cci_panel = alt.layer(*C).properties(width=W, height=H_CCI)

chart = alt.vconcat(head, main, vol, rsi, cci_panel, spacing=2, bounds="flush").properties(
    padding=0, background="white").configure_view(stroke=FRAME, strokeWidth=1)

chart.save("out.html", embed_options={"renderer": "svg", "actions": False})
